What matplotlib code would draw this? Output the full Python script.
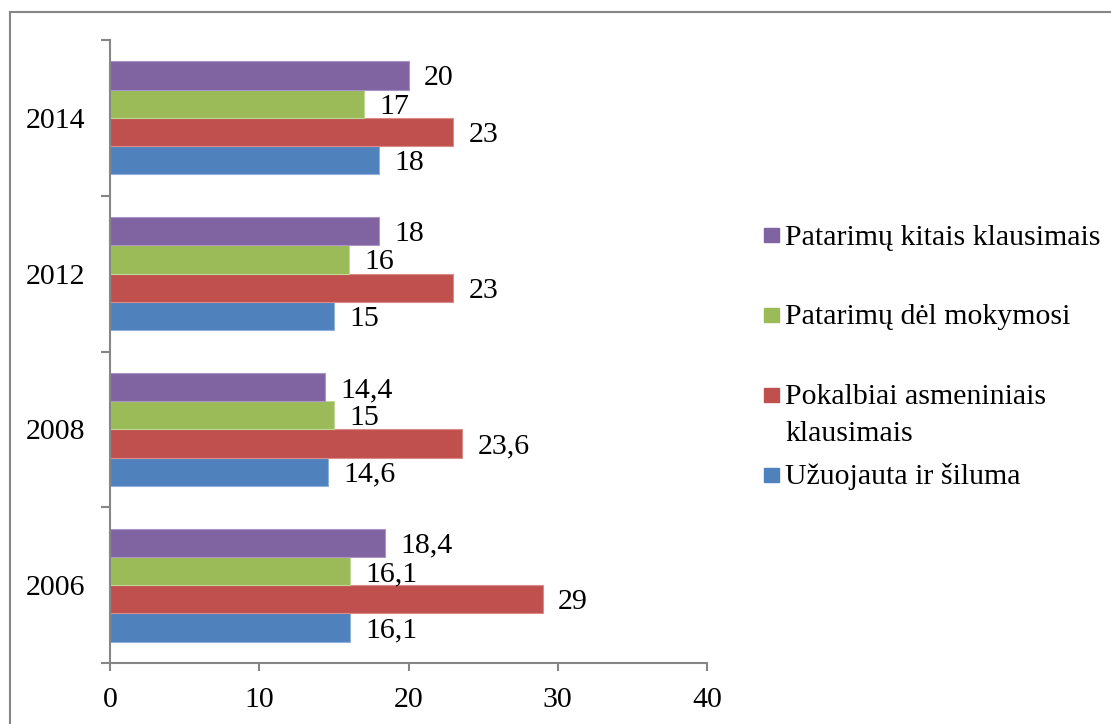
"""
Horizontal grouped bar chart: support topics by year.
"""

import matplotlib
matplotlib.use("Agg")
import matplotlib.pyplot as plt
import numpy as np
from matplotlib.lines import Line2D
from matplotlib.patches import Rectangle

years = ["2006", "2008", "2012", "2014"]
series_names = [
    "Užuojauta ir šiluma",
    "Pokalbiai asmeniniais\nklausimais",
    "Patarimų dėl mokymosi",
    "Patarimų kitais klausimais",
]
uzuojauta = [16.1, 14.6, 15, 18]
pokalbiai = [29, 23.6, 23, 23]
mokymosi = [16.1, 15, 16, 17]
kitais = [18.4, 14.4, 18, 20]
colors = ["#4F81BD", "#C0504D", "#9BBB59", "#8064A2"]
edge_colors = ["#8FB0D8", "#D98C8A", "#C0D694", "#A996C4"]

plt.rcParams["font.family"] = ["Liberation Serif", "DejaVu Serif"]
FS = 21.5
AXIS_GRAY = "#868686"


def fmt(v):
    return f"{v:g}".replace(".", ",")


fig = plt.figure(figsize=(11.11, 7.24), dpi=100)
ax = fig.add_axes([110 / 1111, 61 / 724, 597 / 1111, 623 / 724])

y = np.arange(len(years))
bar_h = 0.1815
values = [uzuojauta, pokalbiai, mokymosi, kitais]
for i, vals in enumerate(values):
    offs = (i - 1.5) * bar_h
    bars = ax.barh(y + offs, vals, height=bar_h, color=colors[i],
                   edgecolor=edge_colors[i], linewidth=0.8)
    labels = ax.bar_label(bars, labels=[fmt(v) for v in vals], padding=11,
                          fontsize=FS, color="black")
    for lab in labels:
        lab.set_va("center_baseline")

ax.set_xlim(0, 40)
ax.set_ylim(-0.5, len(years) - 0.5)
ax.set_xticks([0, 10, 20, 30, 40])
ax.set_yticks(np.arange(-0.5, len(years)), labels=[""] * (len(years) + 1))
ax.set_yticks(y, labels=years, minor=True)

for side in ("top", "right"):
    ax.spines[side].set_visible(False)
for side in ("left", "bottom"):
    ax.spines[side].set_color(AXIS_GRAY)
    ax.spines[side].set_linewidth(1.5)

ax.tick_params(axis="x", direction="out", length=6, width=1.5,
               color=AXIS_GRAY, labelsize=FS, pad=11)
ax.tick_params(axis="y", which="major", direction="out", length=6.5,
               width=1.5, color=AXIS_GRAY)
ax.tick_params(axis="y", which="minor", length=0, labelsize=FS, pad=18)

# legend, top entry first; each text line sits on its own baseline
for k, idx in enumerate([3, 2, 1, 0]):
    cy = 235 + 80 * k
    fig.patches.append(Rectangle((764 / 1111, 1 - (cy + 7) / 724), 15 / 1111, 14 / 724,
                                 transform=fig.transFigure, color=colors[idx]))
    for j, line in enumerate(series_names[idx].split("\n")):
        fig.text(785 / 1111, 1 - (cy + 9.5 + 36 * j) / 724, line, fontsize=FS,
                 va="baseline", ha="left")

# outer frame (left and top edges)
fig.add_artist(Line2D([9.5 / 1111, 9.5 / 1111], [0, 1 - 11.5 / 724],
                      transform=fig.transFigure, color=AXIS_GRAY, lw=1.5))
fig.add_artist(Line2D([9.5 / 1111, 1], [1 - 11.5 / 724, 1 - 11.5 / 724],
                      transform=fig.transFigure, color=AXIS_GRAY, lw=1.5))

fig.savefig("out.png", dpi=100)
plt.close(fig)
